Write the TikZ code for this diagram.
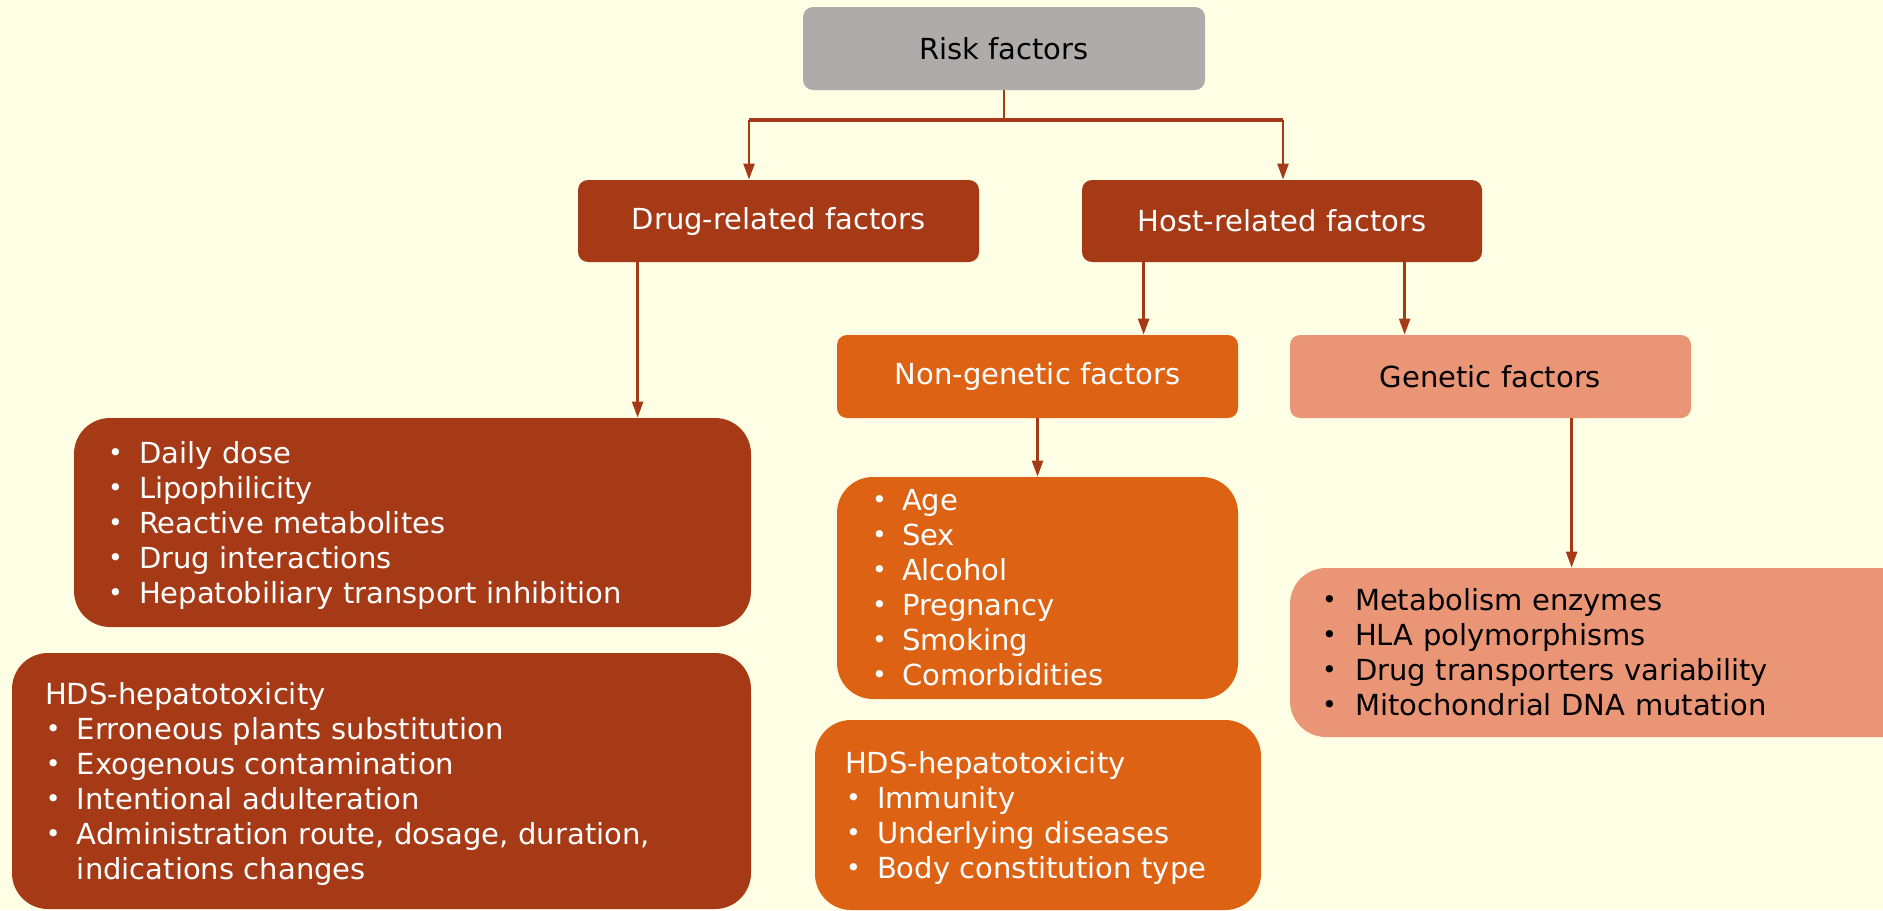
\documentclass[tikz,border=0pt]{standalone}
\usepackage{fontspec}
\setmainfont{DejaVu Sans}
\usetikzlibrary{arrows.meta}
\definecolor{bgc}{RGB}{255,255,230}
\definecolor{greyc}{RGB}{175,171,171}
\definecolor{rustc}{RGB}{166,58,23}
\definecolor{orangec}{RGB}{221,98,20}
\definecolor{salmonc}{RGB}{235,149,119}
\newcommand\blt[2][16pt]{\makebox[#1][l]{\hspace*{0.5pt}\raisebox{1.2pt}{\fontsize{12.5}{12.5}\selectfont •}}#2}
\newcommand\topstrut{\rule{0pt}{14pt}}
\tikzset{
  titlebox/.style={rounded corners=5pt, inner sep=0pt, font=\fontsize{14.5}{17.5}\selectfont},
  listbox/.style={rounded corners=18pt, inner ysep=0pt, align=left, font=\fontsize{14.5}{17.5}\selectfont},
  conn/.style={draw=rustc, line width=1.2pt},
  barline/.style={draw=rustc, line width=2pt},
  arr/.style={conn, -{Triangle[length=8pt,width=5.5pt]}}
}
\begin{document}
\begin{tikzpicture}[x=0.5pt,y=-0.5pt]
\fill[bgc] (0,0) rectangle (1883,910);
\useasboundingbox (0,0) rectangle (1883,910);
\clip (0,0) rectangle (1883,910);

% title level boxes
\node[titlebox, fill=greyc, text=black, minimum width=201pt, minimum height=41.5pt] (risk) at (1004,48.5) {Risk factors};
\node[titlebox, fill=rustc, text=white, minimum width=200.5pt, minimum height=41pt] (drug) at (778.5,221) {Drug-related factors};
\node[titlebox, fill=rustc, text=white, minimum width=200pt, minimum height=41pt] (host) at (1282,221) {Host-related factors};
\node[titlebox, fill=orangec, text=white, minimum width=200.5pt, minimum height=41.5pt] (nong) at (1037.5,376.5) {Non-genetic factors};
\node[titlebox, fill=salmonc, text=black, minimum width=200.5pt, minimum height=41.5pt] (gen) at (1490.5,376.5) {Genetic factors};

% list boxes
\node[listbox, fill=rustc, text=white, text width=305.5pt, inner xsep=16.5pt, minimum height=104.5pt] (druglist) at (412.5,522.5) {%
\topstrut\blt{Daily dose}\\
\blt{Lipophilicity}\\
\blt{Reactive metabolites}\\
\blt{Drug interactions}\\
\blt{Hepatobiliary transport inhibition}};

\node[listbox, fill=rustc, text=white, text width=336.5pt, inner xsep=16.5pt, minimum height=128pt] (drughds) at (381.5,781) {%
\topstrut HDS-hepatotoxicity\\
\blt{Erroneous plants substitution}\\
\blt{Exogenous contamination}\\
\blt{Intentional adulteration}\\
\blt{Administration route, dosage, duration,}\\
\hspace*{16pt}indications changes};

\node[listbox, fill=orangec, text=white, text width=166.5pt, inner xsep=17pt, minimum height=111pt] (nglist) at (1037.5,588) {%
\blt[15.5pt]{Age}\\
\blt[15.5pt]{Sex}\\
\blt[15.5pt]{Alcohol}\\
\blt[15.5pt]{Pregnancy}\\
\blt[15.5pt]{Smoking}\\
\blt[15.5pt]{Comorbidities}};

\node[listbox, fill=orangec, text=white, text width=193pt, inner xsep=15pt, minimum height=95pt] (nghds) at (1038,815) {%
\topstrut HDS-hepatotoxicity\\
\blt{Immunity}\\
\blt{Underlying diseases}\\
\blt{Body constitution type}};

\node[listbox, fill=salmonc, text=black, text width=289pt, inner xsep=15.5pt, minimum height=84.5pt] (genlist) at (1610,652.5) {%
\blt[17pt]{Metabolism enzymes}\\
\blt[17pt]{HLA polymorphisms}\\
\blt[17pt]{Drug transporters variability}\\
\blt[17pt]{Mitochondrial DNA mutation}};

% connectors
\coordinate (bl) at (749,120);
\coordinate (br) at (1283,120);
\draw[conn] (risk.south) -- (risk.south |- bl);
\draw[barline] (bl) -- (br);
\draw[arr] (bl) -- (bl |- drug.north);
\draw[arr] (br) -- (br |- host.north);

\coordinate (d1) at ([xshift=30pt]drug.south west);
\draw[arr] (d1) -- (d1 |- druglist.north);

\coordinate (h1) at ([xshift=31pt]host.south west);
\coordinate (h2) at ([xshift=161.5pt]host.south west);
\draw[arr] (h1) -- (h1 |- nong.north);
\draw[arr] (h2) -- (h2 |- gen.north);

\draw[arr] (nong.south) -- (nglist.north);

\coordinate (g1) at ([xshift=141pt]gen.south west);
\draw[arr] (g1) -- (g1 |- genlist.north);
\end{tikzpicture}
\end{document}
